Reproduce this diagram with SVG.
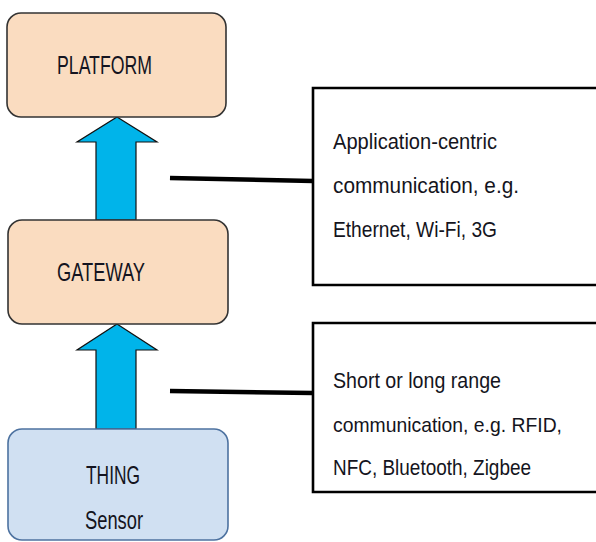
<svg xmlns="http://www.w3.org/2000/svg" width="596" height="542" viewBox="0 0 596 542">
  <style>
    .peach { fill: #fadcc0; stroke: #333333; stroke-width: 1.6; }
    .blue { fill: #d0e0f2; stroke: #4d72a0; stroke-width: 1.6; }
    .note { fill: #ffffff; stroke: #000000; stroke-width: 2.6; }
    .arrow { fill: #00b4ea; stroke: #111111; stroke-width: 1.2; stroke-linejoin: miter; }
    .link { stroke: #000000; stroke-width: 4.5; stroke-linecap: butt; fill: none; }
    .lbl { font-family: "Liberation Sans", Arial, sans-serif; font-size: 26px; fill: #141420; }
    .txt { font-family: "Liberation Sans", Arial, sans-serif; font-size: 22px; fill: #141420; }
  </style>
  <rect width="596" height="542" fill="#ffffff"/>

  <g id="connectors">
    <polygon class="arrow" points="117,117 157,142 136,142 136,220 96,220 96,142 77,142"/>
    <polygon class="arrow" points="117,324 157,350 136,350 136,429 96,429 96,350 77,350"/>
    <line class="link" x1="170" y1="178" x2="313" y2="181"/>
    <line class="link" x1="170" y1="391" x2="313" y2="393"/>
  </g>

  <g id="platform">
    <rect class="peach" x="7" y="13" width="219" height="104" rx="14"/>
    <text class="lbl" x="57" y="74" textLength="95" lengthAdjust="spacingAndGlyphs">PLATFORM</text>
  </g>

  <g id="gateway">
    <rect class="peach" x="8" y="220" width="220" height="104" rx="14"/>
    <text class="lbl" x="57" y="281" textLength="88" lengthAdjust="spacingAndGlyphs">GATEWAY</text>
  </g>

  <g id="thing">
    <rect class="blue" x="8" y="429" width="220" height="111" rx="14"/>
    <text class="lbl" x="86" y="484" textLength="54" lengthAdjust="spacingAndGlyphs">THING</text>
    <text class="lbl" x="85" y="529" textLength="58" lengthAdjust="spacingAndGlyphs">Sensor</text>
  </g>

  <g id="app-note">
    <path class="note" d="M596,88 H313 V285 H596"/>
    <text class="txt" x="333" y="149" textLength="164" lengthAdjust="spacingAndGlyphs">Application-centric</text>
    <text class="txt" x="333" y="193" textLength="186" lengthAdjust="spacingAndGlyphs">communication, e.g.</text>
    <text class="txt" x="333" y="237" textLength="164" lengthAdjust="spacingAndGlyphs">Ethernet, Wi-Fi, 3G</text>
  </g>

  <g id="range-note">
    <path class="note" d="M596,323 H313 V492 H596"/>
    <text class="txt" x="333" y="388" textLength="168" lengthAdjust="spacingAndGlyphs">Short or long range</text>
    <text class="txt" x="333" y="432" textLength="229" lengthAdjust="spacingAndGlyphs" style="font-size:21px">communication, e.g. RFID,</text>
    <text class="txt" x="333" y="475" textLength="198" lengthAdjust="spacingAndGlyphs">NFC, Bluetooth, Zigbee</text>
  </g>
</svg>
